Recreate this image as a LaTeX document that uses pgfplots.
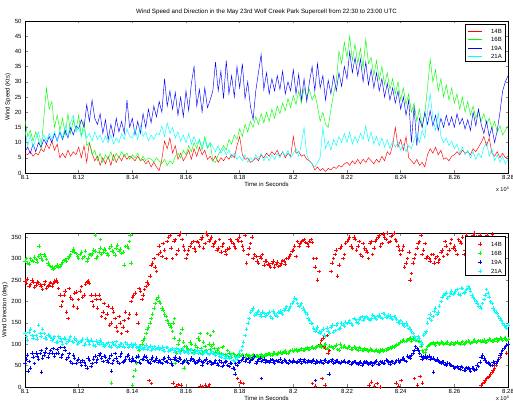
\documentclass[border=0pt]{standalone}
\usepackage{fontspec}
\setmainfont{Liberation Sans}
\usepackage{pgfplots}
\usepackage{pgfplotstable}
\pgfplotsset{compat=1.18}
\definecolor{mred}{rgb}{1,0,0}
\definecolor{mgreen}{rgb}{0,1,0}
\definecolor{mblue}{rgb}{0,0,1}
\definecolor{mcyan}{rgb}{0,1,1}

% wind speed (kts): 14B 16B 19A 21A
\pgfplotstableread{
t a b c d
81000 6.5 17.5 7.0 14.0
81010 6.0 12.0 8.5 9.0
81020 7.0 14.0 6.5 12.5
81030 5.5 10.5 9.5 8.5
81040 6.5 13.5 7.0 11.0
81050 6.0 11.0 10.0 13.5
81060 8.0 8.0 8.5 10.0
81070 7.0 18.0 11.0 12.5
81080 9.5 28.0 9.5 10.5
81090 8.0 21.0 12.0 13.0
81100 10.5 23.5 10.0 11.0
81110 7.5 15.0 13.0 13.5
81120 9.5 19.0 10.5 10.5
81130 5.0 14.0 13.5 14.0
81140 6.5 18.0 11.0 11.5
81150 5.0 12.5 14.0 15.5
81160 7.5 19.5 11.5 12.0
81170 5.5 13.0 15.0 16.5
81180 7.0 17.5 12.5 19.0
81190 6.0 14.0 15.5 13.5
81200 8.5 19.0 14.5 15.0
81210 5.0 12.0 17.5 12.0
81220 9.0 17.0 15.0 14.5
81230 3.5 9.0 22.5 11.5
81240 10.0 10.0 17.0 13.0
81250 6.5 6.0 24.0 10.5
81260 4.0 7.5 18.0 13.5
81270 5.5 4.0 16.0 11.0
81280 2.5 6.5 19.5 12.5
81290 5.0 3.5 13.0 10.0
81300 3.0 6.0 17.5 12.0
81310 5.5 4.5 11.0 10.0
81320 2.5 7.0 16.0 12.5
81330 6.0 4.0 12.0 9.5
81340 3.5 6.5 18.0 11.5
81350 5.5 5.0 13.5 10.0
81360 4.0 7.0 17.0 13.0
81370 6.0 5.5 13.0 11.0
81380 4.5 6.5 24.0 14.5
81390 5.5 4.5 15.0 12.0
81400 5.0 6.0 18.0 11.5
81410 4.0 5.0 12.5 14.5
81420 5.5 6.5 17.0 11.0
81430 4.0 4.0 13.0 15.5
81440 4.5 5.5 19.5 12.0
81450 3.0 4.0 15.0 13.5
81460 4.0 5.0 21.0 10.5
81470 2.0 4.5 16.5 12.5
81480 3.5 3.5 22.0 11.0
81490 2.0 5.0 18.5 13.0
81500 0.8 4.0 23.5 12.5
81510 4.5 3.0 20.0 15.5
81520 10.5 4.5 31.0 12.0
81530 8.0 2.5 22.0 16.5
81540 11.5 4.0 27.0 13.0
81550 6.5 3.0 21.0 15.0
81560 9.0 5.5 26.5 11.5
81570 4.5 6.5 19.0 13.5
81580 6.5 5.0 25.0 10.5
81590 4.0 7.5 18.5 12.5
81600 5.5 6.0 27.0 10.0
81610 7.5 9.0 20.5 13.0
81620 4.5 7.0 29.5 9.5
81630 8.0 10.0 35.0 12.0
81640 5.5 8.0 22.0 9.5
81650 8.5 11.0 27.5 11.0
81660 6.0 7.5 20.0 8.5
81670 7.5 12.0 28.0 11.0
81680 4.5 8.5 21.5 8.0
81690 5.5 10.0 24.0 10.0
81700 4.0 4.0 27.0 8.5
81710 5.5 3.5 36.5 7.0
81720 3.5 6.0 27.0 9.0
81730 5.0 7.5 33.5 6.5
81740 4.0 9.0 24.5 8.0
81750 5.5 7.5 37.0 6.0
81760 4.5 11.0 26.0 7.5
81770 6.0 9.5 32.0 5.0
81780 5.0 12.5 25.0 6.5
81790 9.0 11.0 35.0 4.5
81800 12.0 14.5 28.0 5.5
81810 6.0 12.0 36.0 4.0
81820 4.5 16.0 24.5 6.0
81830 5.0 13.5 30.0 3.5
81840 3.5 17.0 22.0 5.0
81850 4.0 15.0 17.5 4.0
81860 5.0 18.5 27.0 6.0
81870 4.0 16.0 33.0 4.5
81880 6.0 19.5 39.0 6.5
81890 5.0 16.5 27.5 4.0
81900 6.5 20.0 33.0 5.5
81910 5.5 17.0 26.0 4.0
81920 7.0 21.0 31.0 6.0
81930 6.0 18.0 27.0 4.5
81940 7.5 22.0 32.0 6.5
81950 5.5 19.5 27.5 5.0
81960 7.0 23.0 33.5 7.0
81970 5.0 20.5 26.0 5.5
81980 6.5 24.5 30.0 7.5
81990 5.5 21.5 27.0 5.0
82000 12.0 25.5 34.0 6.5
82010 6.5 22.5 26.0 8.0
82020 7.0 27.0 32.5 5.5
82030 5.5 23.0 24.0 9.5
82040 6.0 28.0 31.0 15.0
82050 4.5 25.0 23.5 6.0
82060 4.0 27.5 30.0 4.0
82070 3.0 24.0 35.0 3.0
82080 1.0 26.0 27.0 2.0
82090 2.0 22.0 36.0 3.5
82100 0.8 17.0 28.0 5.0
82110 1.5 20.0 32.0 15.0
82120 0.5 16.0 24.0 8.0
82130 1.5 15.0 30.5 10.5
82140 1.0 21.0 26.0 7.5
82150 2.0 26.0 32.0 11.0
82160 1.5 30.0 27.0 9.0
82170 2.5 40.0 33.0 12.0
82180 2.0 36.0 28.5 10.0
82190 3.0 43.0 35.0 13.0
82200 3.5 38.0 31.0 10.0
82210 2.5 45.0 40.0 13.5
82220 4.0 37.0 33.0 9.5
82230 3.0 42.5 38.0 12.0
82240 4.5 36.0 32.0 10.0
82250 3.0 41.0 37.5 13.0
82260 4.5 34.5 30.0 11.0
82270 3.5 44.0 36.5 15.5
82280 5.0 36.0 29.0 10.5
82290 4.0 38.0 34.0 13.5
82300 3.0 32.0 28.0 9.5
82310 4.5 37.0 33.0 12.0
82320 3.5 30.5 27.0 9.0
82330 5.5 35.0 31.0 11.5
82340 4.0 29.0 25.0 8.5
82350 7.0 33.0 29.5 11.0
82360 6.0 27.5 24.0 8.0
82370 9.0 31.0 28.0 10.5
82380 15.0 26.0 23.0 8.5
82390 8.5 30.0 27.0 10.0
82400 11.0 24.0 21.0 7.5
82410 7.5 28.0 25.0 9.5
82420 12.0 22.5 19.0 7.0
82430 5.0 26.0 24.0 9.0
82440 4.0 20.0 10.0 8.0
82450 3.0 23.0 22.0 11.0
82460 4.5 17.0 9.0 13.0
82470 2.5 21.0 18.0 10.0
82480 3.5 15.0 15.0 14.0
82490 2.0 19.5 20.0 11.5
82500 6.0 28.0 16.0 20.0
82510 8.0 37.5 20.5 26.0
82520 6.5 30.0 15.5 18.0
82530 8.5 34.0 19.0 14.0
82540 6.0 27.0 14.0 20.0
82550 7.5 31.0 18.0 12.0
82560 4.5 25.0 15.0 10.0
82570 5.0 29.0 19.0 11.5
82580 4.0 24.0 15.5 9.0
82590 5.5 28.0 18.5 10.5
82600 6.0 23.0 15.0 8.0
82610 7.0 26.0 19.5 9.5
82620 6.0 21.0 16.0 6.5
82630 7.5 25.0 18.0 8.5
82640 6.5 20.0 14.5 6.0
82650 7.0 23.5 17.5 7.5
82660 6.0 19.0 14.0 5.0
82670 8.0 22.0 20.0 7.0
82680 7.0 18.0 15.5 4.5
82690 8.5 20.5 21.0 6.5
82700 10.0 17.0 16.0 5.0
82710 12.0 19.5 13.0 8.5
82720 9.0 16.0 17.0 10.0
82730 11.5 18.0 12.0 5.5
82740 6.5 14.5 15.0 8.0
82750 5.5 17.0 10.0 4.0
82760 7.0 13.5 14.0 6.0
82770 5.0 15.5 20.0 3.5
82780 6.5 12.5 27.0 5.5
82790 5.0 14.0 30.0 3.0
82800 5.5 15.5 32.0 4.5
}\speed

% wind direction (deg): 14B 16B 19A 21A, samples on the 10 s marks
\pgfplotstableread{
t a b c d
81000 248 295 55 125
81010 252 290 75 110
81020 240 300 45 135
81030 246 293 70 115
81040 238 298 80 120
81050 244 305 65 145
81060 235 302 85 118
81070 240 310 75 125
81080 232 298 90 112
81090 238 285 78 120
81100 236 280 80 110
81110 248 278 72 118
81120 245 285 88 105
81130 215 282 92 115
81140 200 292 76 100
81150 225 298 85 112
81160 160 300 70 108
81170 210 310 60 118
81180 190 322 75 104
81190 222 312 55 110
81200 205 300 65 102
81210 235 315 50 108
81220 215 305 58 98
81230 245 295 45 112
81240 242 310 62 100
81250 200 312 55 106
81260 215 318 72 96
81270 185 305 65 104
81280 205 325 78 110
81290 175 315 60 100
81300 160 320 70 98
81310 190 308 58 104
81320 150 330 75 94
81330 175 315 62 100
81340 140 325 68 106
81350 165 318 55 96
81360 125 312 80 102
81370 155 285 60 92
81380 130 330 72 100
81390 170 340 65 95
81400 210 5 68 94
81410 220 40 60 100
81420 150 70 72 90
81430 225 95 55 96
81440 215 110 66 88
81450 235 125 70 98
81460 240 140 58 92
81470 285 160 65 86
81480 300 185 60 95
81490 270 205 68 90
81500 330 200 62 88
81510 305 185 55 94
81520 320 170 68 84
81530 340 155 58 92
81540 355 145 64 86
81550 300 130 52 90
81560 345 55 70 82
81570 320 100 60 88
81580 360 125 66 80
81590 330 105 58 86
81600 300 95 63 84
81610 320 88 55 80
81620 335 100 68 88
81630 325 85 60 78
81640 340 92 58 85
81650 330 110 65 82
81660 350 80 52 76
81670 335 95 62 84
81680 355 125 56 80
81690 345 88 60 78
81700 330 100 55 80
81710 340 82 62 74
81720 325 90 50 78
81730 315 78 58 70
81740 335 95 52 76
81750 310 72 60 72
81760 325 80 48 68
81770 340 70 55 74
81780 330 76 42 60
81790 345 74 50 66
81800 350 72 58 80
81810 330 76 65 95
81820 355 70 60 120
81830 310 74 68 150
81840 335 68 62 175
81850 300 75 70 185
81860 305 72 56 170
81870 290 70 64 178
81880 300 76 60 165
81890 285 73 66 172
81900 295 75 62 168
81910 285 78 58 175
81920 290 74 64 160
81930 280 80 56 172
81940 292 77 60 165
81950 284 82 65 178
81960 296 79 58 170
81970 288 84 62 185
81980 300 80 55 180
81990 310 85 60 190
82000 320 83 63 200
82010 305 88 57 205
82020 330 85 61 188
82030 340 90 55 195
82040 345 87 64 180
82050 335 92 58 170
82060 340 89 60 155
82070 338 94 62 148
82080 280 91 56 130
82090 250 95 59 140
82100 100 97 61 125
82110 115 92 55 135
82120 90 100 63 118
82130 80 88 58 130
82140 270 95 60 140
82150 300 90 56 128
82160 320 98 62 145
82170 285 86 57 135
82180 330 93 59 150
82190 310 96 61 142
82200 340 90 57 148
82210 350 95 60 155
82220 325 88 55 145
82230 345 92 59 158
82240 330 86 54 150
82250 310 90 58 162
82260 335 85 56 155
82270 320 88 60 165
82280 300 84 54 158
82290 340 87 57 160
82300 325 83 56 165
82310 345 86 61 158
82320 355 82 53 168
82330 335 88 58 160
82340 350 85 56 170
82350 360 90 62 162
82360 340 92 54 166
82370 355 95 60 158
82380 345 97 57 164
82390 330 100 63 152
82400 310 105 62 155
82410 330 110 68 145
82420 290 108 60 150
82430 315 112 70 138
82440 265 106 75 130
82450 300 115 85 118
82460 325 110 90 110
82470 340 108 80 115
82480 310 85 65 100
82490 335 82 72 125
82500 305 95 70 150
82510 295 100 65 170
82520 310 104 68 165
82530 300 98 62 185
82540 292 102 60 175
82550 315 105 56 200
82560 305 100 58 215
82570 330 103 52 220
82580 320 99 55 212
82590 345 104 50 225
82600 330 101 45 220
82610 310 105 48 228
82620 340 100 42 215
82630 350 106 46 230
82640 320 103 40 222
82650 345 108 44 235
82660 335 102 38 225
82670 355 107 45 210
82680 350 104 42 200
82690 340 109 48 190
82700 5 106 70 185
82710 12 110 68 205
82720 20 105 58 228
82730 25 112 55 210
82740 35 108 50 195
82750 45 111 56 180
82760 60 107 60 172
82770 70 114 75 160
82780 85 110 85 150
82790 95 115 95 140
82800 100 112 100 145
}\dir

% wind direction (deg), samples between the 10 s marks, then
% further samples (wrap-around near 0 deg, outliers; nan = none)
\pgfplotstableread{
t a b c d
81005 242 300 65 118
81015 236 288 60 128
81025 250 296 80 120
81035 233 304 55 130
81045 245 292 72 112
81055 240 310 78 125
81065 228 296 68 135
81075 247 306 82 115
81085 236 290 70 122
81095 244 282 85 116
81105 242 276 90 114
81115 250 282 78 104
81125 230 280 80 118
81135 190 288 70 108
81145 215 296 92 115
81155 175 294 65 102
81165 230 305 78 112
81175 205 318 55 106
81185 220 315 68 114
81195 185 305 62 100
81205 225 310 58 106
81215 210 300 62 112
81225 240 318 52 100
81235 248 302 68 106
81245 215 308 48 110
81255 190 320 65 98
81265 205 300 58 108
81275 215 315 75 100
81285 165 310 68 104
81295 195 322 72 96
81305 170 312 62 102
81315 145 325 68 96
81325 185 318 55 104
81335 160 308 78 98
81345 130 332 60 92
81355 150 322 72 100
81365 140 315 58 96
81375 175 328 66 104
81385 160 325 75 92
81395 200 290 60 100
81405 215 25 62 98
81415 170 55 70 92
81425 230 85 58 96
81435 205 100 64 90
81445 228 115 72 94
81455 245 135 62 88
81465 260 150 56 96
81475 290 170 70 90
81485 280 195 62 88
81495 310 210 58 94
81505 315 195 58 90
81515 335 180 65 86
81525 300 165 60 92
81535 350 150 70 84
81545 325 140 56 88
81555 340 115 64 86
81565 310 80 62 90
81575 355 110 68 84
81585 345 135 56 90
81595 320 95 62 82
81605 310 90 58 82
81615 328 105 62 86
81625 340 82 64 80
81635 318 98 56 84
81645 338 115 62 78
81655 345 90 60 86
81665 325 105 58 80
81675 360 85 65 82
81685 340 100 60 76
81695 350 95 54 84
81705 335 90 58 76
81715 320 85 55 78
81725 345 80 62 72
81735 330 92 48 76
81745 318 76 58 68
81755 322 85 50 74
81765 345 72 56 70
81775 335 78 45 62
81785 325 72 55 70
81795 340 76 58 72
81805 340 74 62 85
81815 320 70 70 105
81825 290 76 64 135
81835 325 72 58 160
81845 350 74 66 180
81855 310 70 72 168
81865 295 74 60 175
81875 305 72 68 170
81885 310 70 62 176
81895 295 75 58 165
81905 288 77 60 172
81915 280 74 63 165
81925 295 79 58 178
81935 286 76 62 168
81945 282 80 60 175
81955 290 78 57 172
81965 295 82 63 180
81975 300 80 59 188
81985 305 83 62 185
81995 318 86 57 195
82005 330 86 60 208
82015 340 84 58 195
82025 335 88 64 192
82035 342 86 60 185
82045 338 90 57 175
82055 330 88 62 160
82065 345 92 58 150
82075 300 90 63 138
82085 300 94 61 135
82095 270 96 57 128
82105 110 94 58 130
82115 95 98 62 122
82125 120 90 57 138
82135 85 96 60 125
82145 290 92 64 145
82155 310 95 58 132
82165 260 88 61 148
82175 325 100 55 138
82185 300 94 60 145
82195 335 92 57 152
82205 345 93 58 152
82215 330 89 54 148
82225 350 94 60 160
82235 320 88 55 152
82245 340 92 57 158
82255 305 87 52 165
82265 325 90 58 160
82275 315 86 55 162
82285 335 89 56 155
82295 310 85 52 168
82305 340 85 58 160
82315 350 84 54 165
82325 330 86 60 162
82335 358 83 55 172
82345 345 87 63 164
82355 338 88 58 168
82365 352 91 60 160
82375 360 94 55 165
82385 340 98 62 158
82395 320 102 58 150
82405 320 108 65 150
82415 280 106 62 142
82425 300 110 72 145
82435 250 114 68 135
82445 290 112 80 125
82455 310 110 95 112
82465 335 106 85 118
82475 355 95 72 105
82485 320 82 70 120
82495 300 88 68 130
82505 300 98 72 160
82515 310 102 68 155
82525 290 100 64 178
82535 305 104 66 170
82545 298 100 58 190
82555 320 103 60 210
82565 340 102 54 218
82575 310 105 56 208
82585 335 101 52 220
82595 325 100 48 218
82605 320 103 46 225
82615 345 102 44 218
82625 335 104 48 232
82635 310 100 40 220
82645 355 106 46 228
82655 328 105 42 230
82665 345 104 44 215
82675 360 110 40 205
82685 338 106 52 195
82695 355 108 58 188
82705 8 108 75 195
82715 15 104 62 215
82725 22 109 56 220
82735 30 110 52 200
82745 40 106 58 185
82755 52 113 55 175
82765 65 109 65 165
82775 78 112 80 155
82785 90 113 90 145
82795 80 110 98 138
81012 nan nan 38 nan
81052 nan 330 nan nan
81062 nan nan 35 nan
81262 nan 355 nan nan
81282 nan 345 nan nan
81322 nan 10 38 nan
81392 nan 355 nan nan
81462 15 nan nan nan
81472 8 nan nan nan
81552 10 150 nan nan
81557 nan 160 nan nan
81562 2 nan nan nan
81572 6 nan nan nan
81582 4 85 nan nan
81592 nan 45 nan nan
81602 nan 60 nan nan
81652 3 125 nan nan
81662 1 nan nan nan
81672 5 nan nan nan
81682 2 nan nan nan
81687 6 nan nan nan
81692 nan 120 nan nan
81702 nan 130 nan nan
81782 nan nan 30 nan
81792 20 nan nan nan
81802 12 nan nan nan
81812 8 nan nan nan
81882 nan nan 20 nan
82072 8 nan nan nan
82082 3 nan 15 nan
82107 20 nan nan nan
82117 5 nan nan nan
82132 nan nan 30 nan
82282 5 nan nan nan
82292 12 nan nan nan
82302 3 nan nan nan
82312 8 nan nan nan
82322 0 nan nan nan
82382 10 nan nan nan
82392 2 nan nan nan
82402 15 nan nan nan
82452 20 nan nan nan
82462 5 nan nan nan
82472 25 nan nan nan
82482 10 nan nan nan
82522 nan nan 35 nan
82722 355 nan nan nan
82732 345 nan nan nan
82742 358 nan nan nan
}\dirb

\pgfplotsset{
  common/.style={
    scale only axis, width=483pt,
    xmin=81000, xmax=82800,
    scaled x ticks=false,
    xtick={81000,81200,...,82800},
    xticklabels={8.1,8.12,8.14,8.16,8.18,8.2,8.22,8.24,8.26,8.28},
    tick align=inside, tick pos=both, major tick length=2.5pt,
    tick style={line width=0.4pt},
    axis line style={line width=0.4pt},
    /pgf/number format/assume math mode=true,
    tick label style={font=\fontsize{6}{7}\selectfont},
    label style={font=\fontsize{6}{7}\selectfont},
    xticklabel style={yshift=1pt},
    xlabel style={yshift=4pt},
    ylabel style={yshift=-3pt},
  },
  dmark/.style={color=#1, only marks, mark=+, mark size=1.8pt,
    mark options={line width=0.4pt}},
}

\begin{document}
\begin{tikzpicture}
\begin{axis}[common, at={(25pt,230pt)}, anchor=south west, height=152pt,
  ymin=0, ymax=50, ytick={0,5,...,50},
  xlabel={Time in Seconds}, ylabel={Wind Speed (Kts)},
]
\addplot[color=mred, line width=0.45pt] table[x=t,y=a]{\speed};
\addplot[color=mgreen, line width=0.45pt] table[x=t,y=b]{\speed};
\addplot[color=mblue, line width=0.45pt] table[x=t,y=c]{\speed};
\addplot[color=mcyan, line width=0.45pt] table[x=t,y=d]{\speed};
\end{axis}

\begin{axis}[common, at={(25pt,16pt)}, anchor=south west, height=154pt,
  ymin=0, ymax=360, ytick={0,50,...,350},
  xlabel={Time in Seconds}, ylabel={Wind Direction (deg)},
]
\addplot[dmark=mred] table[x=t,y=a]{\dir};
\addplot[dmark=mgreen] table[x=t,y=b]{\dir};
\addplot[dmark=mblue] table[x=t,y=c]{\dir};
\addplot[dmark=mcyan] table[x=t,y=d]{\dir};
\addplot[dmark=mred] table[x=t,y=a]{\dirb};
\addplot[dmark=mgreen] table[x=t,y=b]{\dirb};
\addplot[dmark=mblue] table[x=t,y=c]{\dirb};
\addplot[dmark=mcyan] table[x=t,y=d]{\dirb};
\end{axis}

% x-axis scale notes
\node[anchor=north east, inner sep=0pt, font=\fontsize{5.5}{6}\selectfont]
  at (509pt,216pt) {x 10\raisebox{0.55ex}{\fontsize{4}{4}\selectfont 4}};
\node[anchor=north east, inner sep=0pt, font=\fontsize{5.5}{6}\selectfont]
  at (509pt,7pt) {x 10\raisebox{0.55ex}{\fontsize{4}{4}\selectfont 4}};

% legends
\begin{scope}[font=\fontsize{6}{7}\selectfont]
\filldraw[fill=white, draw=black, line width=0.4pt] (465pt,342pt) rectangle (505pt,379pt);
\draw[mred, line width=0.6pt] (468pt,372pt) -- (482pt,372pt);
\draw[mgreen, line width=0.6pt] (468pt,363.5pt) -- (482pt,363.5pt);
\draw[mblue, line width=0.6pt] (468pt,355pt) -- (482pt,355pt);
\draw[mcyan, line width=0.6pt] (468pt,346.5pt) -- (482pt,346.5pt);
\node[anchor=east, inner sep=0pt] at (502pt,372pt) {14B};
\node[anchor=east, inner sep=0pt] at (502pt,363.5pt) {16B};
\node[anchor=east, inner sep=0pt] at (502pt,355pt) {19A};
\node[anchor=east, inner sep=0pt] at (502pt,346.5pt) {21A};

\filldraw[fill=white, draw=black, line width=0.4pt] (465pt,128pt) rectangle (505pt,167pt);
\draw[mred, line width=0.5pt] (478pt,159pt) -- (482pt,159pt) (480pt,157pt) -- (480pt,161pt);
\draw[mgreen, line width=0.5pt] (478pt,150pt) -- (482pt,150pt) (480pt,148pt) -- (480pt,152pt);
\draw[mblue, line width=0.5pt] (478pt,141pt) -- (482pt,141pt) (480pt,139pt) -- (480pt,143pt);
\draw[mcyan, line width=0.5pt] (478pt,132pt) -- (482pt,132pt) (480pt,130pt) -- (480pt,134pt);
\node[anchor=east, inner sep=0pt] at (502pt,159pt) {14B};
\node[anchor=east, inner sep=0pt] at (502pt,150pt) {16B};
\node[anchor=east, inner sep=0pt] at (502pt,141pt) {19A};
\node[anchor=east, inner sep=0pt] at (502pt,132pt) {21A};
\end{scope}

\node[font=\fontsize{6.2}{7}\selectfont] at (266.5pt,391pt)
  {Wind Speed and Direction in the May 23rd Wolf Creek Park Supercell from 22:30 to 23:00 UTC};

\pgfresetboundingbox
\useasboundingbox (0pt,0pt) rectangle (513pt,403pt);
\end{tikzpicture}
\end{document}
